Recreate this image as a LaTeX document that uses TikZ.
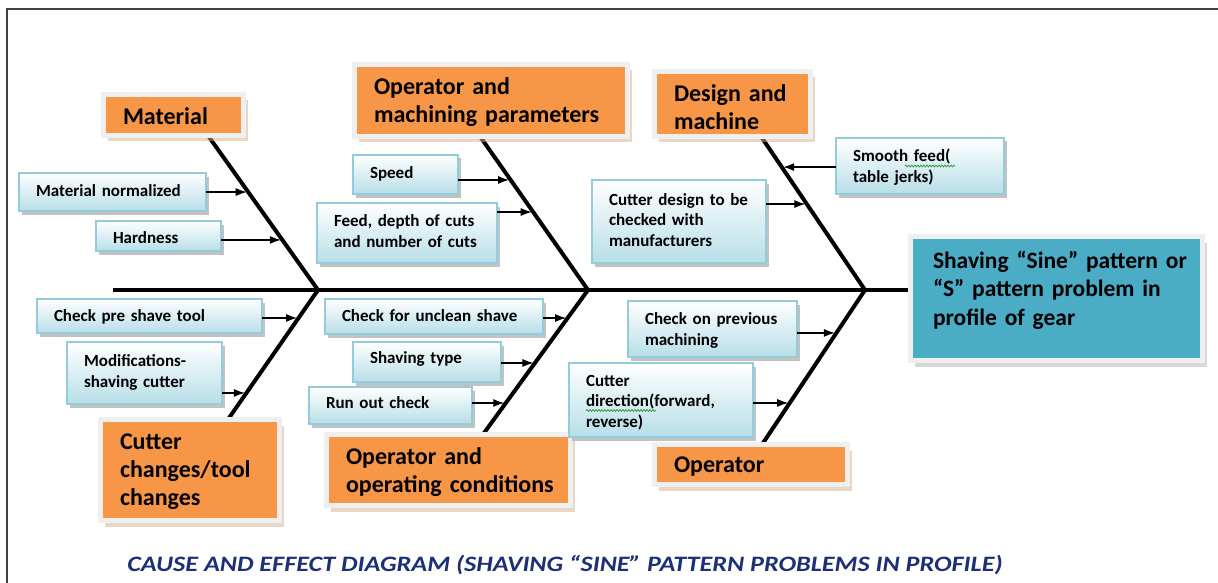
\documentclass[tikz,border=0pt]{standalone}
\usepackage{fontspec}
\setmainfont{Carlito}
\usetikzlibrary{arrows.meta,shadows,calc,decorations.pathmorphing}
\definecolor{orfill}{HTML}{F79646}
\definecolor{orframe}{HTML}{EFEFEF}
\definecolor{orshadow}{HTML}{D6AE8C}
\definecolor{tealfill}{HTML}{4BACC6}
\definecolor{bbord}{HTML}{93CDDD}
\definecolor{bfill}{HTML}{B7DEE8}
\definecolor{capblue}{HTML}{1C2F78}
\definecolor{spellgreen}{HTML}{3C9A3C}
% #1: downward shift of the text in pt (negative = upward)
\newcommand{\mylines}[2][0]{\raisebox{-#1pt}[\height][\depth]{\begin{tabular}{@{}l@{}}#2\end{tabular}}}
\pgfdeclarelayer{background}
\pgfsetlayers{background,main}
\begin{document}
\begin{tikzpicture}[x=1pt,y=-1pt,
  bbox/.style={draw=bbord, line width=1.2pt, top color=white, bottom color=bfill,
    drop shadow={shadow xshift=2.5pt, shadow yshift=-3.5pt, fill=black!40, opacity=0.6},
    inner xsep=17pt, inner ysep=0pt, outer sep=0pt, anchor=north west, align=left,
    font=\fontsize{17}{20.5}\selectfont\bfseries},
  cat/.style={fill=orfill, draw=orframe, line width=5pt,
    drop shadow={shadow xshift=4.5pt, shadow yshift=-6pt, fill=orshadow},
    inner xsep=19.5pt, inner ysep=0pt, outer sep=0pt, anchor=north west, align=left,
    font=\fontsize{24}{28}\selectfont\bfseries},
  effbox/.style={fill=tealfill, draw=orframe, line width=5pt,
    drop shadow={shadow xshift=4.5pt, shadow yshift=-6pt, fill=black!30},
    inner xsep=22.5pt, inner ysep=0pt, outer sep=0pt, anchor=north west, align=left,
    font=\fontsize{23.5}{28.5}\selectfont\bfseries},
  bone/.style={line width=4pt, black, line join=miter},
  spine/.style={line width=4.5pt, black},
  arr/.style={line width=1.2pt, black, shorten >=1.5pt, -{Latex[length=11pt,width=8pt]}},
  frameline/.style={line width=1.5pt, black!75},
  squig/.style={spellgreen, line width=0.8pt, decorate, decoration={snake, amplitude=0.9pt, segment length=3pt}},
  caption/.style={font=\fontsize{22}{26}\selectfont\bfseries\itshape, text=capblue}
]
\useasboundingbox (0,0) rectangle (1218,583);
\draw[frameline] (1218,9) -- (7,9) -- (7,583);

% category boxes
\node[cat, minimum width=140pt, minimum height=41pt, text width=101pt] (mat) at (103.5,94.5) {\mylines[3.5]{Material}};
\node[cat, minimum width=273pt, minimum height=72pt, text width=234pt] (opm) at (354.5,64.5) {\mylines[2]{Operator and\\machining parameters}};
\node[cat, minimum width=156pt, minimum height=65pt, text width=117pt] (des) at (654.5,71.5) {\mylines[6]{Design and\\machine}};
\node[cat, minimum width=179pt, minimum height=101pt, text width=140pt] (cut) at (100.5,419.5) {\mylines[1.5]{Cutter\\changes/tool\\changes}};
\node[cat, minimum width=244pt, minimum height=71pt, text width=205pt] (opc) at (326.5,434.5) {\mylines[3]{Operator and\\operating conditions}};
\node[cat, minimum width=193pt, minimum height=40pt, text width=154pt] (opr) at (654.5,444.5) {\mylines[2]{Operator}};

% effect
\node[effbox, minimum width=292pt, minimum height=124pt, text width=247pt] (eff) at (910.5,236.5) {\mylines[-7.25]{Shaving “Sine” pattern or\\“S” pattern problem in\\profile of gear}};

% cause boxes
\node[bbox, minimum width=187pt, minimum height=38pt, text width=153pt] (mn) at (19,173) {\mylines{Material normalized}};
\node[bbox, minimum width=125pt, minimum height=30pt, text width=91pt] (hd) at (96,221) {\mylines[3]{Hardness}};
\node[bbox, minimum width=105pt, minimum height=39pt, text width=71pt] (sp) at (353,155) {\mylines{Speed}};
\node[bbox, minimum width=180pt, minimum height=60pt, text width=146pt] (fd) at (317,203) {\mylines{Feed, depth of cuts\\and number of cuts}};
\node[bbox, minimum width=174pt, minimum height=83pt, text width=140pt] (cd) at (592,180) {\mylines{Cutter design to be\\checked with\\manufacturers}};
\node[bbox, minimum width=168pt, minimum height=56pt, text width=134pt] (sf) at (836,138) {\mylines[2]{Smooth feed(\\table jerks)}};
\node[bbox, minimum width=225pt, minimum height=34pt, text width=191pt] (cp) at (37,299) {\mylines[1]{Check pre shave tool}};
\node[bbox, minimum width=155pt, minimum height=62pt, text width=121pt] (mo) at (67,342) {\mylines{Modifications-\\shaving cutter}};
\node[bbox, minimum width=218pt, minimum height=35pt, text width=184pt] (cu) at (325,299) {\mylines[1]{Check for unclean shave}};
\node[bbox, minimum width=148pt, minimum height=40pt, text width=114pt] (st) at (353,342) {\mylines[-3]{Shaving type}};
\node[bbox, minimum width=163pt, minimum height=37pt, text width=129pt] (ro) at (309,387) {\mylines[-1]{Run out check}};
\node[bbox, minimum width=169pt, minimum height=56pt, text width=135pt] (pm) at (628,301) {\mylines[2]{Check on previous\\machining}};
\node[bbox, minimum width=184pt, minimum height=74pt, text width=150pt] (cdir) at (569,363) {\mylines[2.5]{Cutter\\direction(forward,\\reverse)}};

% spell-check underlines
\draw[squig] ($(sf.north west)+(69,28)$) -- ++(50,0);
\draw[squig] ($(cdir.north west)+(17,47.5)$) -- ++(70,0);

% caption
\node[caption] (cap) at (565,565) {\scalebox{1.19}[1]{CAUSE AND EFFECT DIAGRAM (SHAVING “SINE” PATTERN PROBLEMS IN PROFILE)}};

% skeleton
\coordinate (s0) at (113,290);
\coordinate (j1) at (318,290);
\coordinate (j2) at (588,290);
\coordinate (j3) at (865,290);
\coordinate (bA) at ($(mat.south west)!0.746!(mat.south east)$);
\coordinate (bB) at ($(opm.south west)!0.46!(opm.south east)$);
\coordinate (bC) at ($(des.south west)!0.683!(des.south east)$);
\coordinate (bD) at ($(cut.north west)!0.712!(cut.north east)$);
\coordinate (bE) at ($(opc.north west)!0.641!(opc.north east)$);
\coordinate (bF) at ($(opr.north west)!0.557!(opr.north east)$);

\begin{pgfonlayer}{background}
\draw[spine] (s0) -- (eff.west |- s0);
\draw[bone] (bA) -- (j1) coordinate[pos=0.366] (tmn) coordinate[pos=0.676] (thd)
  -- (bD) coordinate[pos=0.216] (tcp) coordinate[pos=0.795] (tmo);
\draw[bone] (bB) -- (j2) coordinate[pos=0.283] (tsp) coordinate[pos=0.492] (tfd)
  -- (bE) coordinate[pos=0.194] (tcu) coordinate[pos=0.505] (tst) coordinate[pos=0.782] (tro);
\draw[bone] (bC) -- (j3) coordinate[pos=0.199] (tsf) coordinate[pos=0.44] (tcd)
  -- (bF) coordinate[pos=0.278] (tpm) coordinate[pos=0.731] (tcdir);
\end{pgfonlayer}

% arrows
\draw[arr] (mn.east |- tmn) -- (tmn);
\draw[arr] (hd.east |- thd) -- (thd);
\draw[arr] (sp.east |- tsp) -- (tsp);
\draw[arr] (fd.east |- tfd) -- (tfd);
\draw[arr] (sf.west |- tsf) -- (tsf);
\draw[arr] (cd.east |- tcd) -- (tcd);
\draw[arr] (cp.east |- tcp) -- (tcp);
\draw[arr] (mo.east |- tmo) -- (tmo);
\draw[arr] (cu.east |- tcu) -- (tcu);
\draw[arr] (st.east |- tst) -- (tst);
\draw[arr] (ro.east |- tro) -- (tro);
\draw[arr] (pm.east |- tpm) -- (tpm);
\draw[arr] (cdir.east |- tcdir) -- (tcdir);
\end{tikzpicture}
\end{document}
